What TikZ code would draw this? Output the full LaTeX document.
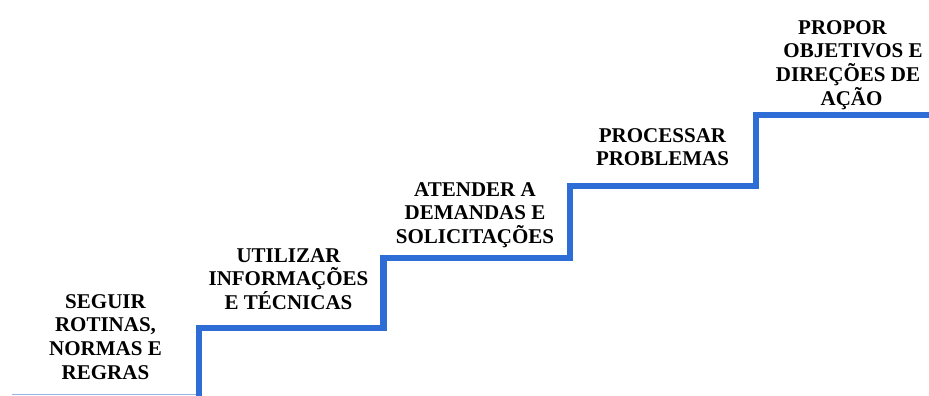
\documentclass[tikz,border=0pt]{standalone}
\usepackage{fontspec}
\setmainfont{Liberation Serif}
\definecolor{stairblue}{RGB}{46,108,214}
\definecolor{floorblue}{RGB}{150,180,225}
\begin{document}
\begin{tikzpicture}[x=1pt,y=1pt,
  label/.style={anchor=north,align=center,inner sep=0pt,font=\fontsize{21}{23.7}\selectfont\bfseries},
  stair/.style={draw=stairblue,line width=6.5pt,line join=miter},
  floor/.style={draw=floorblue,line width=1pt}]
\useasboundingbox (0,0) rectangle (929,396);
\coordinate (f0) at (12,1);
\coordinate (s0) at (199,0);
\coordinate (s1) at (199,68);
\coordinate (s2) at (383.5,68);
\coordinate (s3) at (383.5,138);
\coordinate (s4) at (570,138);
\coordinate (s5) at (570,210);
\coordinate (s6) at (756,210);
\coordinate (s7) at (756,281);
\coordinate (s8) at (929,281);
\draw[floor] (f0) -- (s0 |- f0);
\draw[stair] (s0) -- (s1) -- (s2) -- (s3) -- (s4) -- (s5) -- (s6) -- (s7) -- (s8);
\node[label] (t1) at (105.5,102) {SEGUIR\\ROTINAS,\\NORMAS E\\REGRAS};
\node[label] (t2) at (288.5,148) {UTILIZAR\\INFORMAÇÕES\\E TÉCNICAS};
\node[label] (t3) at (475,214) {ATENDER A\\DEMANDAS E\\SOLICITAÇÕES};
\node[label] (t4) at (662.5,268) {PROCESSAR\\PROBLEMAS};
\node[label] (t5) at (848,376) {PROPOR\hspace*{11pt}\\\hspace*{10pt}OBJETIVOS E\\DIREÇÕES DE\\\hspace*{7pt}AÇÃO};
\end{tikzpicture}
\end{document}
